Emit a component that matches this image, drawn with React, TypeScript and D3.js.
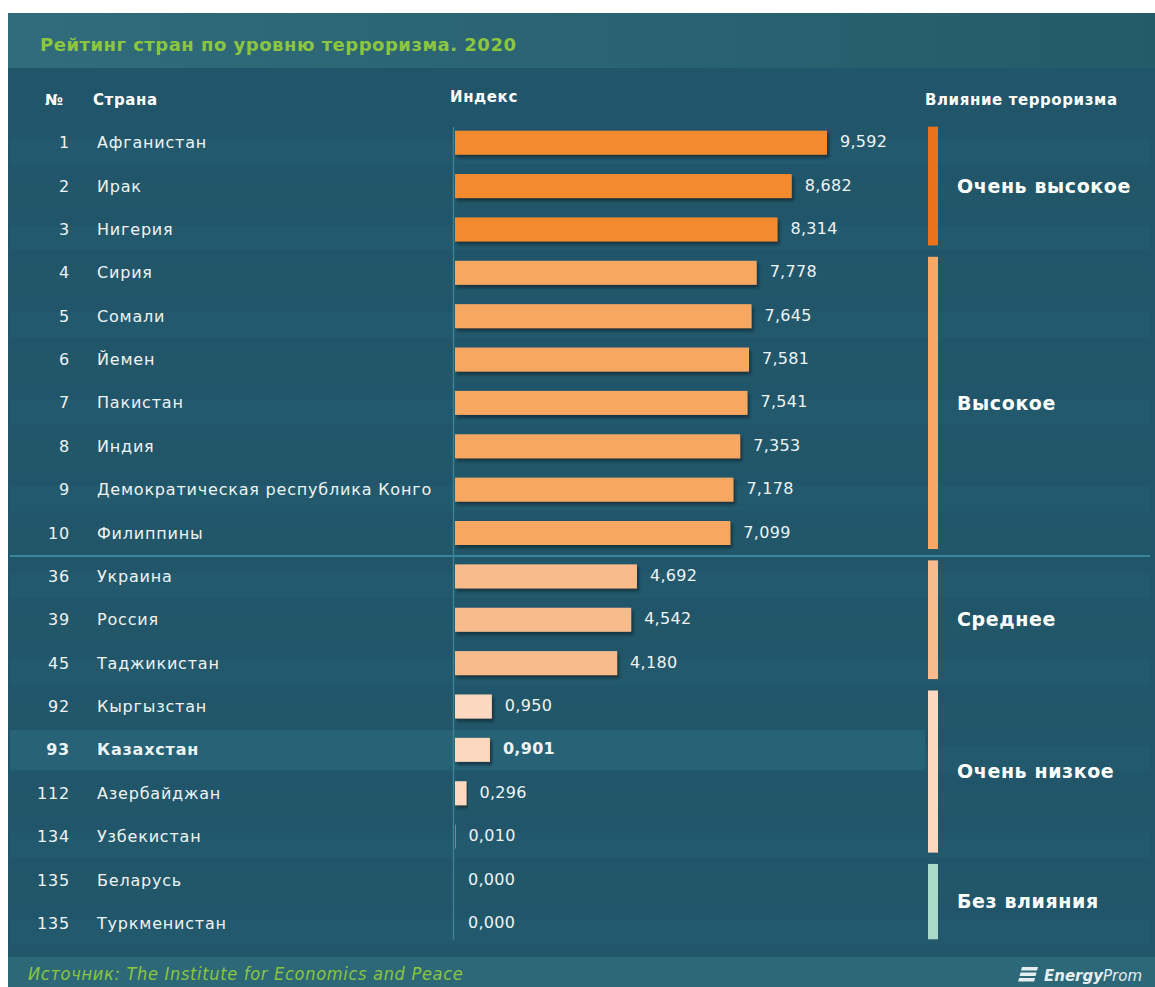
import React from "react";
import * as d3 from "d3";

const ranks = [1, 2, 3, 4, 5, 6, 7, 8, 9, 10, 36, 39, 45, 92, 93, 112, 134, 135, 135];
const countries = [
  "Афганистан", "Ирак", "Нигерия", "Сирия", "Сомали", "Йемен", "Пакистан", "Индия",
  "Демократическая республика Конго", "Филиппины", "Украина", "Россия", "Таджикистан",
  "Кыргызстан", "Казахстан", "Азербайджан", "Узбекистан", "Беларусь", "Туркменистан",
];
const values = [9.592, 8.682, 8.314, 7.778, 7.645, 7.581, 7.541, 7.353, 7.178, 7.099,
  4.692, 4.542, 4.18, 0.95, 0.901, 0.296, 0.01, 0.0, 0.0];
const groupNames = ["Очень высокое", "Высокое", "Среднее", "Очень низкое", "Без влияния"];
const groupStart = [0, 3, 10, 13, 17];
const groupEnd = [2, 9, 12, 16, 18];
const groupBarColors = ["#f48a2e", "#f6a864", "#f8bc8c", "#fbd8bf", "#a8d8c8"];
const groupIndicatorColors = ["#e8731a", "#f6a864", "#f8bc8c", "#fbd8bf", "#abd9c9"];
const highlightIndex = 14;

const W = 1155;
const H = 987;
const FONT = "'DejaVu Sans', Verdana, sans-serif";

export default function App() {
  const y = d3.scaleBand<number>().domain(d3.range(values.length)).range([121, 945]);
  const x = d3.scaleLinear().domain([0, 9.592]).range([455, 827]);
  const step = y.step();
  const barH = 24;
  const groupOf = (i: number) => groupStart.findIndex((s, g) => i >= s && i <= groupEnd[g]);
  const fmt = (v: number) => v.toFixed(3).replace(".", ",");

  return (
    <svg width={W} height={H} style={{ position: "absolute", left: 0, top: 0 }}>
      <defs>
        <linearGradient id="titleGrad" x1="0" x2="1" y1="0" y2="0">
          <stop offset="0" stopColor="#306c7b" />
          <stop offset="1" stopColor="#245b6b" />
        </linearGradient>
        <filter id="shadow" x="-5%" y="-30%" width="115%" height="180%">
          <feDropShadow dx="2" dy="3" stdDeviation="1.5" floodColor="#0a2530" floodOpacity="0.75" />
        </filter>
      </defs>
      <rect x={0} y={0} width={W} height={H} fill="#ffffff" />
      {/* body */}
      <rect x={8} y={13} width={W - 8} height={H - 13} fill="#21566a" />
      {/* row stripes */}
      {values.map((_, i) => (
        <rect key={"s" + i} x={10} y={(y(i) as number) + step / 2 - 4} width={1140} height={step / 2 + 4}
          fill={i % 2 === 0 ? "#23596c" : "#225769"} />
      ))}
      <rect x={10} y={(y(highlightIndex) as number) + 2} width={915} height={step - 4} fill="#276276" />
      {/* title band */}
      <rect x={8} y={13} width={W - 8} height={55} fill="url(#titleGrad)" />
      <text x={40} y={51} fill="#8cc63e" fontFamily={FONT} fontSize={18} fontWeight="bold" letterSpacing={0.5}>
        Рейтинг стран по уровню терроризма. 2020
      </text>
      {/* header */}
      <g fill="#ffffff" fontFamily={FONT} fontSize={15} fontWeight="bold" letterSpacing={0.6}>
        <text x={45} y={105}>№</text>
        <text x={93} y={105}>Страна</text>
        <text x={450} y={102}>Индекс</text>
        <text x={925} y={105}>Влияние терроризма</text>
      </g>
      {/* separator */}
      <line x1={10} x2={W - 5} y1={556} y2={556} stroke="#3a8599" strokeWidth={2} />
      {/* axis line */}
      <line x1={453.5} x2={453.5} y1={127} y2={940} stroke="#3a8196" strokeWidth={1.5} />
      {/* rows */}
      {values.map((v, i) => {
        const cy = (y(i) as number) + step / 2;
        const g = groupOf(i);
        const bold = i === highlightIndex ? "bold" : "normal";
        return (
          <g key={"r" + i} fontFamily={FONT} fontSize={16} fill="#eef3f4" fontWeight={bold} letterSpacing={0.8}>
            <text x={70} y={cy} dy="0.35em" textAnchor="end">{ranks[i]}</text>
            <text x={97} y={cy} dy="0.35em">{countries[i]}</text>
            {v > 0 && (
              <rect x={x(0)} y={cy - barH / 2} width={x(v) - x(0)} height={barH}
                fill={groupBarColors[g]} filter="url(#shadow)" />
            )}
            <text x={x(v) + 13} y={cy - 1} dy="0.35em" letterSpacing={0.3}>{fmt(v)}</text>
          </g>
        );
      })}
      {/* impact groups */}
      {groupNames.map((name, g) => {
        const top = (y(groupStart[g]) as number) + step / 2 - 16;
        const bot = (y(groupEnd[g]) as number) + step / 2 + 16;
        return (
          <g key={"g" + g}>
            <rect x={928} y={top} width={10} height={bot - top} fill={groupIndicatorColors[g]} />
            <text x={957} y={(top + bot) / 2} dy="0.35em" fill="#ffffff" fontFamily={FONT}
              fontSize={19} fontWeight="bold" letterSpacing={0.6}>{name}</text>
          </g>
        );
      })}
      {/* footer */}
      <rect x={8} y={957} width={W - 8} height={30} fill="#2c6878" />
      <text x={28} y={980} fill="#8cc63e" fontFamily="'Liberation Sans Narrow', 'DejaVu Sans Condensed', sans-serif"
        fontSize={18} fontStyle="italic" letterSpacing={0.7}>Источник: The Institute for Economics and  Peace</text>
      <g transform="translate(1022,967)">
        <rect x={0} y={0} width={16} height={3.5} fill="#e6eef0" transform="skewX(-15)" />
        <rect x={0} y={5.5} width={16} height={3.5} fill="#e6eef0" transform="skewX(-15)" />
        <rect x={0} y={11} width={16} height={3.5} fill="#e6eef0" transform="skewX(-15)" />
      </g>
      <text x={1044} y={981} fill="#e6eef0" fontFamily={FONT} fontSize={15} fontStyle="italic" fontWeight="bold">
        Energy<tspan fontWeight="normal">Prom</tspan>
      </text>
    </svg>
  );
}
